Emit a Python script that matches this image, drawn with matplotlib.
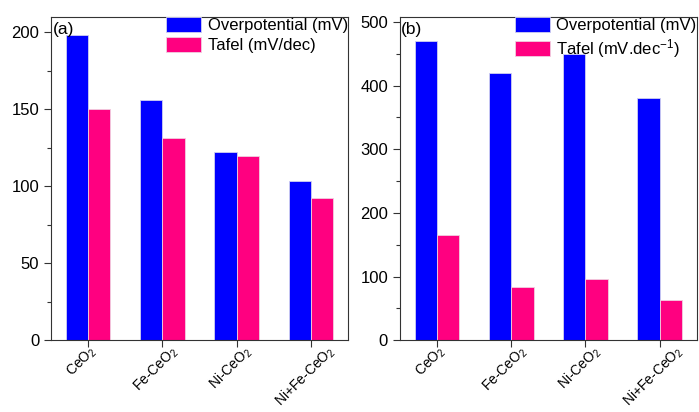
import numpy as np
import matplotlib.pyplot as plt
from matplotlib.ticker import MultipleLocator

plt.rcParams['font.family'] = ['Liberation Sans', 'DejaVu Sans']
plt.rcParams['mathtext.fontset'] = 'custom'
plt.rcParams['mathtext.rm'] = 'Liberation Sans'
plt.rcParams['mathtext.it'] = 'Liberation Sans'
plt.rcParams['mathtext.default'] = 'regular'

samples = ['CeO$_2$', 'Fe-CeO$_2$', 'Ni-CeO$_2$', 'Ni+Fe-CeO$_2$']

# panel (a)
over_a = [198, 156, 122, 103.5]
tafel_a = [150, 131.5, 119.5, 92.5]
# panel (b)
over_b = [470, 420, 450, 380]
tafel_b = [166, 84, 97, 63]

blue = '#0000FF'
pink = '#FF0080'
fs = 12

fig = plt.figure(figsize=(6.99, 4.12), dpi=100)
ax_a = fig.add_axes([0.073, 0.174, 0.425, 0.785])
ax_b = fig.add_axes([0.572, 0.174, 0.425, 0.785])

x = np.arange(1, len(samples) + 1)
w = 0.3

panels = [
    (ax_a, over_a, tafel_a, 'Tafel (mV/dec)', '(a)', 210, 50, 25),
    (ax_b, over_b, tafel_b, 'Tafel (mV.dec$^{-1}$)', '(b)', 508, 100, 50),
]

for ax, over, tafel, tlabel, tag, ymax, major, minor in panels:
    ax.bar(x - w / 2, over, w, color=blue, edgecolor='#d0d0f0', linewidth=0.6,
           label='Overpotential (mV)')
    ax.bar(x + w / 2, tafel, w, color=pink, edgecolor='#f0d0e0', linewidth=0.6,
           label=tlabel)
    ax.set_xlim(0.5, 4.5)
    ax.set_ylim(0, ymax)
    ax.yaxis.set_major_locator(MultipleLocator(major))
    ax.yaxis.set_minor_locator(MultipleLocator(minor))
    ax.set_xticks(x)
    ax.set_xticklabels([''] * len(samples))
    # rotated sample names, a bit left of the tick like the original
    for xi, name in zip(x, samples):
        ax.annotate(name, xy=(xi, 0), xycoords=('data', 'axes fraction'),
                    xytext=(-6, -3), textcoords='offset pixels',
                    rotation=45, ha='center', va='top', fontsize=10)
    ax.tick_params(axis='y', labelsize=fs)
    ax.tick_params(which='major', direction='out', length=5, width=0.8, color='#333333')
    ax.tick_params(which='minor', direction='out', length=3, width=0.8, color='#333333')
    ax.tick_params(axis='x', which='minor', bottom=False)
    for s in ax.spines.values():
        s.set_linewidth(0.8)
        s.set_color('#333333')
    ax.text(0.005, 0.985, tag, transform=ax.transAxes, ha='left', va='top', fontsize=fs + 0.5)
    ax.legend(loc='upper left', bbox_to_anchor=(0.387, 1.0), frameon=False,
              fontsize=fs, borderpad=0, borderaxespad=0, handlelength=2.1,
              handleheight=1.0, handletextpad=0.4, labelspacing=0.25)

fig.savefig('out.png', dpi=100)
